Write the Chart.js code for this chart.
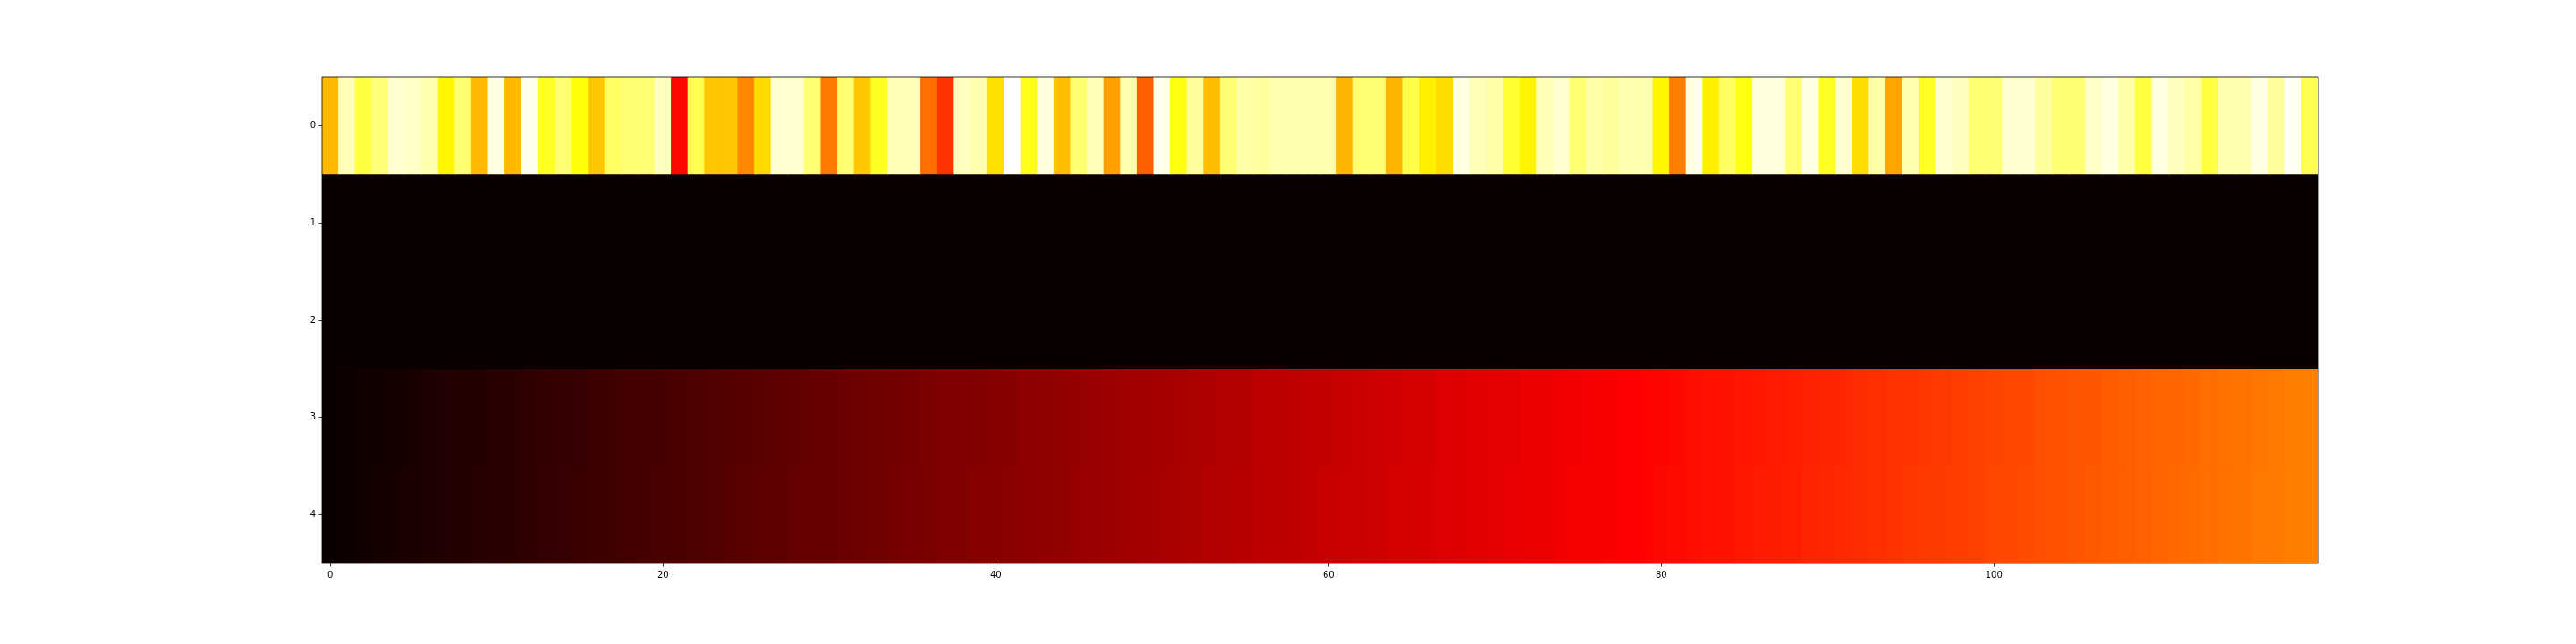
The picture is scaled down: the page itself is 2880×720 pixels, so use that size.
<!DOCTYPE html>
<html>
<head>
<meta charset="utf-8">
<script src="https://cdn.jsdelivr.net/npm/chart.js@4/dist/chart.umd.min.js"></script>
<style>
html,body{margin:0;padding:0;background:#fff;}
#wrap{width:2880px;height:720px;}
canvas{display:block;}
</style>
</head>
<body>
<div id="wrap"><canvas id="c" width="2880" height="720"></canvas></div>
<script>
// ---- data (values as colormap fraction 0..1) ----
const COLUMNS = Array.from({length: 120}, (_, i) => i);
const ROW_INDEX = [0, 1, 2, 3, 4];
const X_TICKS = [0, 20, 40, 60, 80, 100];
const Y_TICKS = [0, 1, 2, 3, 4];

const ROW0 = [
  0.644,0.929,0.810,0.865,0.953,0.945,0.921,0.731,0.858,0.644,
  0.969,0.640,0.977,0.778,0.858,0.750,0.664,0.842,0.858,0.858,
  0.937,0.377,0.826,0.664,0.664,0.568,0.688,0.953,0.953,0.858,
  0.544,0.858,0.664,0.778,0.929,0.929,0.529,0.441,0.937,0.921,
  0.700,1.000,0.770,0.961,0.652,0.858,0.929,0.604,0.921,0.505,
  0.977,0.762,0.905,0.652,0.858,0.913,0.905,0.921,0.921,0.921,
  0.921,0.634,0.858,0.858,0.634,0.818,0.724,0.694,0.969,0.929,
  0.913,0.794,0.727,0.929,0.953,0.858,0.913,0.905,0.921,0.921,
  0.731,0.553,0.969,0.724,0.842,0.762,0.961,0.961,0.858,0.969,
  0.778,0.953,0.694,0.913,0.612,0.921,0.778,0.953,0.937,0.858,
  0.858,0.953,0.953,0.905,0.858,0.858,0.945,0.969,0.913,0.810,
  0.969,0.937,0.913,0.810,0.921,0.921,0.969,0.905,0.985,0.826
];
const ROW1 = [
  0,0,0,0,0,0,0,0,0,0, 0,0,0,0,0,0,0,0,0,0, 0,0,0,0,0,0,0,0,0,0,
  0,0,0,0,0,0,0,0,0,0, 0,0,0,0,0,0,0,0,0,0, 0,0,0,0,0,0,0,0,0,0,
  0,0,0,0,0,0,0,0,0,0, 0,0,0,0,0,0,0,0,0,0, 0,0,0,0,0,0,0,0,0,0,
  0,0,0,0,0,0,0,0,0,0, 0,0,0,0,0,0,0,0,0,0, 0,0,0,0,0,0,0,0,0,0
];
const ROW2 = [
  0,0,0,0,0,0,0,0,0,0, 0,0,0,0,0,0,0,0,0,0, 0,0,0,0,0,0,0,0,0,0,
  0,0,0,0,0,0,0,0,0,0, 0,0,0,0,0,0,0,0,0,0, 0,0,0,0,0,0,0,0,0,0,
  0,0,0,0,0,0,0,0,0,0, 0,0,0,0,0,0,0,0,0,0, 0,0,0,0,0,0,0,0,0,0,
  0,0,0,0,0,0,0,0,0,0, 0,0,0,0,0,0,0,0,0,0, 0,0,0,0,0,0,0,0,0,0
];
const ROW3 = [
  0.000,0.005,0.009,0.014,0.019,0.023,0.028,0.033,0.037,0.042,
  0.047,0.051,0.056,0.061,0.065,0.070,0.075,0.079,0.084,0.089,
  0.093,0.098,0.103,0.107,0.112,0.117,0.121,0.126,0.131,0.135,
  0.140,0.145,0.149,0.154,0.159,0.163,0.168,0.173,0.177,0.182,
  0.187,0.191,0.196,0.201,0.205,0.210,0.215,0.219,0.224,0.229,
  0.234,0.238,0.243,0.248,0.252,0.257,0.262,0.266,0.271,0.276,
  0.280,0.285,0.290,0.294,0.299,0.304,0.308,0.313,0.318,0.322,
  0.327,0.332,0.336,0.341,0.346,0.350,0.355,0.360,0.364,0.369,
  0.374,0.378,0.383,0.388,0.392,0.397,0.402,0.406,0.411,0.416,
  0.420,0.425,0.430,0.434,0.439,0.444,0.448,0.453,0.458,0.462,
  0.467,0.472,0.476,0.481,0.486,0.490,0.495,0.500,0.504,0.509,
  0.514,0.518,0.523,0.528,0.532,0.537,0.542,0.546,0.551,0.556
];
const ROW4 = [
  0.002,0.007,0.011,0.016,0.021,0.025,0.030,0.035,0.039,0.044,
  0.049,0.053,0.058,0.063,0.067,0.072,0.077,0.081,0.086,0.091,
  0.095,0.100,0.105,0.109,0.114,0.119,0.123,0.128,0.133,0.137,
  0.142,0.147,0.151,0.156,0.161,0.165,0.170,0.175,0.179,0.184,
  0.189,0.193,0.198,0.203,0.207,0.212,0.217,0.221,0.226,0.231,
  0.236,0.240,0.245,0.250,0.254,0.259,0.264,0.268,0.273,0.278,
  0.282,0.287,0.292,0.296,0.301,0.306,0.310,0.315,0.320,0.324,
  0.329,0.334,0.338,0.343,0.348,0.352,0.357,0.362,0.366,0.371,
  0.376,0.380,0.385,0.390,0.394,0.399,0.404,0.408,0.413,0.418,
  0.422,0.427,0.432,0.436,0.441,0.446,0.450,0.455,0.460,0.464,
  0.469,0.474,0.478,0.483,0.488,0.492,0.497,0.502,0.506,0.511,
  0.516,0.520,0.525,0.530,0.534,0.539,0.544,0.548,0.553,0.558
];
const ROWS = [ROW0, ROW1, ROW2, ROW3, ROW4];

// matplotlib 'hot' colormap, 256-entry LUT
function hot(v) {
  const i = Math.min(255, Math.max(0, Math.floor(v * 256)));
  const x = i / 255;
  const r = Math.min(1, 0.0416 + (1 - 0.0416) * x / 0.365079);
  const g = Math.min(1, Math.max(0, (x - 0.365079) / (0.746032 - 0.365079)));
  const b = Math.min(1, Math.max(0, (x - 0.746032) / (1 - 0.746032)));
  return 'rgb(' + Math.round(r * 255) + ',' + Math.round(g * 255) + ',' + Math.round(b * 255) + ')';
}

const datasets = ROWS.map((vals, r) => ({
  label: 'row ' + ROW_INDEX[r],
  data: vals.map((v, c) => ({x: COLUMNS[c], y: [ROW_INDEX[r] - 0.5, ROW_INDEX[r] + 0.5]})),
  backgroundColor: vals.map(hot),
  borderWidth: 0,
  borderSkipped: false,
  barPercentage: 1,
  categoryPercentage: 1,
  grouped: false,
  inflateAmount: 0.5
}));

const framePlugin = {
  id: 'frame',
  afterDraw(chart) {
    const a = chart.chartArea, ctx = chart.ctx;
    ctx.save();
    ctx.strokeStyle = '#000';
    ctx.lineWidth = 0.8;
    ctx.strokeRect(a.left, a.top, a.right - a.left, a.bottom - a.top);
    ctx.restore();
  }
};

const tickFont = {family: 'DejaVu Sans', size: 10};

new Chart(document.getElementById('c'), {
  type: 'bar',
  data: {datasets},
  options: {
    responsive: false,
    animation: false,
    devicePixelRatio: 1,
    layout: {padding: {left: 300, right: 288, top: 86, bottom: 30}},
    plugins: {legend: {display: false}, tooltip: {enabled: false}},
    scales: {
      x: {
        type: 'linear', min: -0.5, max: 119.5, offset: false,
        afterBuildTicks: s => { s.ticks = X_TICKS.map(v => ({value: v})); },
        afterFit: s => { s.height = 60; },
        grid: {offset: false, drawOnChartArea: false, drawTicks: true, tickLength: 3.5, color: '#000', lineWidth: 0.8},
        border: {display: false},
        ticks: {color: '#000', font: tickFont, padding: 3.5, maxRotation: 0, autoSkip: false}
      },
      y: {
        type: 'linear', reverse: true, min: -0.5, max: 4.5, offset: false,
        afterBuildTicks: s => { s.ticks = Y_TICKS.map(v => ({value: v})); },
        afterFit: s => { s.width = 60; },
        grid: {offset: false, drawOnChartArea: false, drawTicks: true, tickLength: 3.5, color: '#000', lineWidth: 0.8},
        border: {display: false},
        ticks: {color: '#000', font: tickFont, padding: 3.5, autoSkip: false}
      }
    }
  },
  plugins: [framePlugin]
});
</script>
</body>
</html>
